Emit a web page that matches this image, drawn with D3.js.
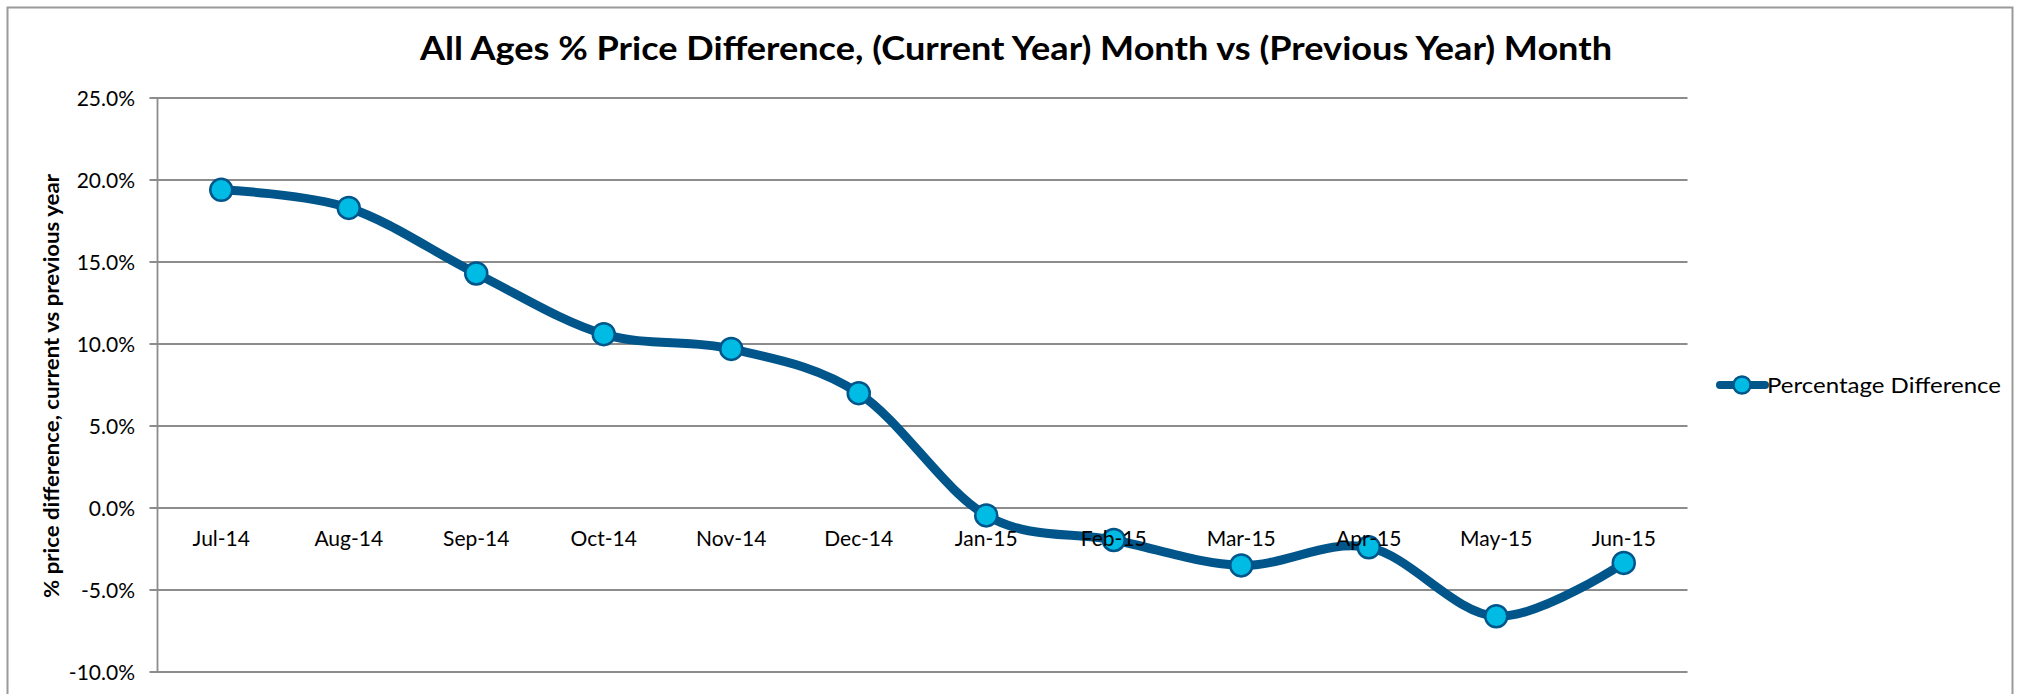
<!DOCTYPE html>
<meta charset="utf-8">
<style>
body { margin: 0; background: #fff; }
text { font-family: Lato, "Open Sans", sans-serif; fill: #000; }
.grid line { stroke: #8c8c8c; stroke-width: 1.8px; }
</style>
<svg width="2027" height="694"></svg>
<script src="https://d3js.org/d3.v7.min.js"></script>
<script>

var months = ["Jul-14", "Aug-14", "Sep-14", "Oct-14", "Nov-14", "Dec-14",
              "Jan-15", "Feb-15", "Mar-15", "Apr-15", "May-15", "Jun-15"];
var pctDiff = [19.4, 18.3, 14.3, 10.6, 9.7, 7.0, -0.45, -1.95, -3.5, -2.4, -6.6, -3.35];
var yTicks = [25, 20, 15, 10, 5, 0, -5, -10];

var svg = d3.select("svg"),
    plotLeft = 157.5, plotRight = 1687.5, plotTop = 98, plotBottom = 672;

// chart area border
svg.append("rect")
    .attr("x", 7.5).attr("y", 7.5)
    .attr("width", 2005).attr("height", 700)
    .attr("fill", "none")
    .attr("stroke", "#9a9a9a")
    .attr("stroke-width", 2);

var x = d3.scaleBand().domain(months).range([plotLeft, plotRight]);
var y = d3.scaleLinear().domain([-10, 25]).range([plotBottom, plotTop]);
var cx = function(i) { return x(months[i]) + x.bandwidth() / 2; };

// gridlines + y labels
var grid = svg.append("g").attr("class", "grid");
grid.selectAll("line.h")
    .data(yTicks)
    .enter().append("line")
      .attr("class", "h")
      .attr("x1", plotLeft - 8).attr("x2", plotRight)
      .attr("y1", function(d) { return y(d); })
      .attr("y2", function(d) { return y(d); });

grid.append("line")
    .attr("x1", plotLeft).attr("x2", plotLeft)
    .attr("y1", plotTop).attr("y2", plotBottom);

svg.append("g").selectAll("text")
    .data(yTicks)
    .enter().append("text")
      .attr("x", 135)
      .attr("y", function(d) { return y(d); })
      .attr("dy", "0.36em")
      .attr("text-anchor", "end")
      .style("font-size", "21px")
      .text(function(d) { return d.toFixed(1) + "%"; });

// series
var line = d3.line()
    .x(function(d, i) { return cx(i); })
    .y(function(d) { return y(d); })
    .curve(d3.curveCatmullRom.alpha(0));

svg.append("path")
    .datum(pctDiff)
    .attr("fill", "none")
    .attr("stroke", "#00558a")
    .attr("stroke-width", 9)
    .attr("stroke-linecap", "round")
    .attr("d", line);

svg.append("g").selectAll("circle")
    .data(pctDiff)
    .enter().append("circle")
      .attr("cx", function(d, i) { return cx(i); })
      .attr("cy", function(d) { return y(d); })
      .attr("r", 11)
      .attr("fill", "#00bbe4")
      .attr("stroke", "#00558a")
      .attr("stroke-width", 2.5);

// category labels, drawn over the series like the original
svg.append("g").selectAll("text")
    .data(months)
    .enter().append("text")
      .attr("x", function(d, i) { return cx(i); })
      .attr("y", y(0) + 38)
      .attr("text-anchor", "middle")
      .style("font-size", "21px")
      .text(function(d) { return d; });

// title
svg.append("text")
    .attr("x", 1016)
    .attr("y", 60)
    .attr("text-anchor", "middle")
    .attr("textLength", 1192)
    .attr("lengthAdjust", "spacingAndGlyphs")
    .style("font-size", "33px")
    .style("font-weight", "bold")
    .text("All Ages % Price Difference, (Current Year) Month vs (Previous Year) Month");

// y axis title
svg.append("text")
    .attr("transform", "translate(59,386) rotate(-90)")
    .attr("text-anchor", "middle")
    .attr("textLength", 424)
    .attr("lengthAdjust", "spacingAndGlyphs")
    .style("font-size", "20px")
    .style("font-weight", "bold")
    .text("% price difference, current vs previous year");

// legend
var lg = svg.append("g").attr("transform", "translate(1720,385)");
lg.append("line")
    .attr("x1", 0).attr("x2", 45)
    .attr("stroke", "#00558a")
    .attr("stroke-width", 8)
    .attr("stroke-linecap", "round");
lg.append("circle")
    .attr("cx", 22).attr("r", 8.5)
    .attr("fill", "#00bbe4")
    .attr("stroke", "#00558a")
    .attr("stroke-width", 2.5);
lg.append("text")
    .attr("x", 47)
    .attr("dy", "0.36em")
    .attr("textLength", 234)
    .attr("lengthAdjust", "spacingAndGlyphs")
    .style("font-size", "21px")
    .text("Percentage Difference");

</script>
